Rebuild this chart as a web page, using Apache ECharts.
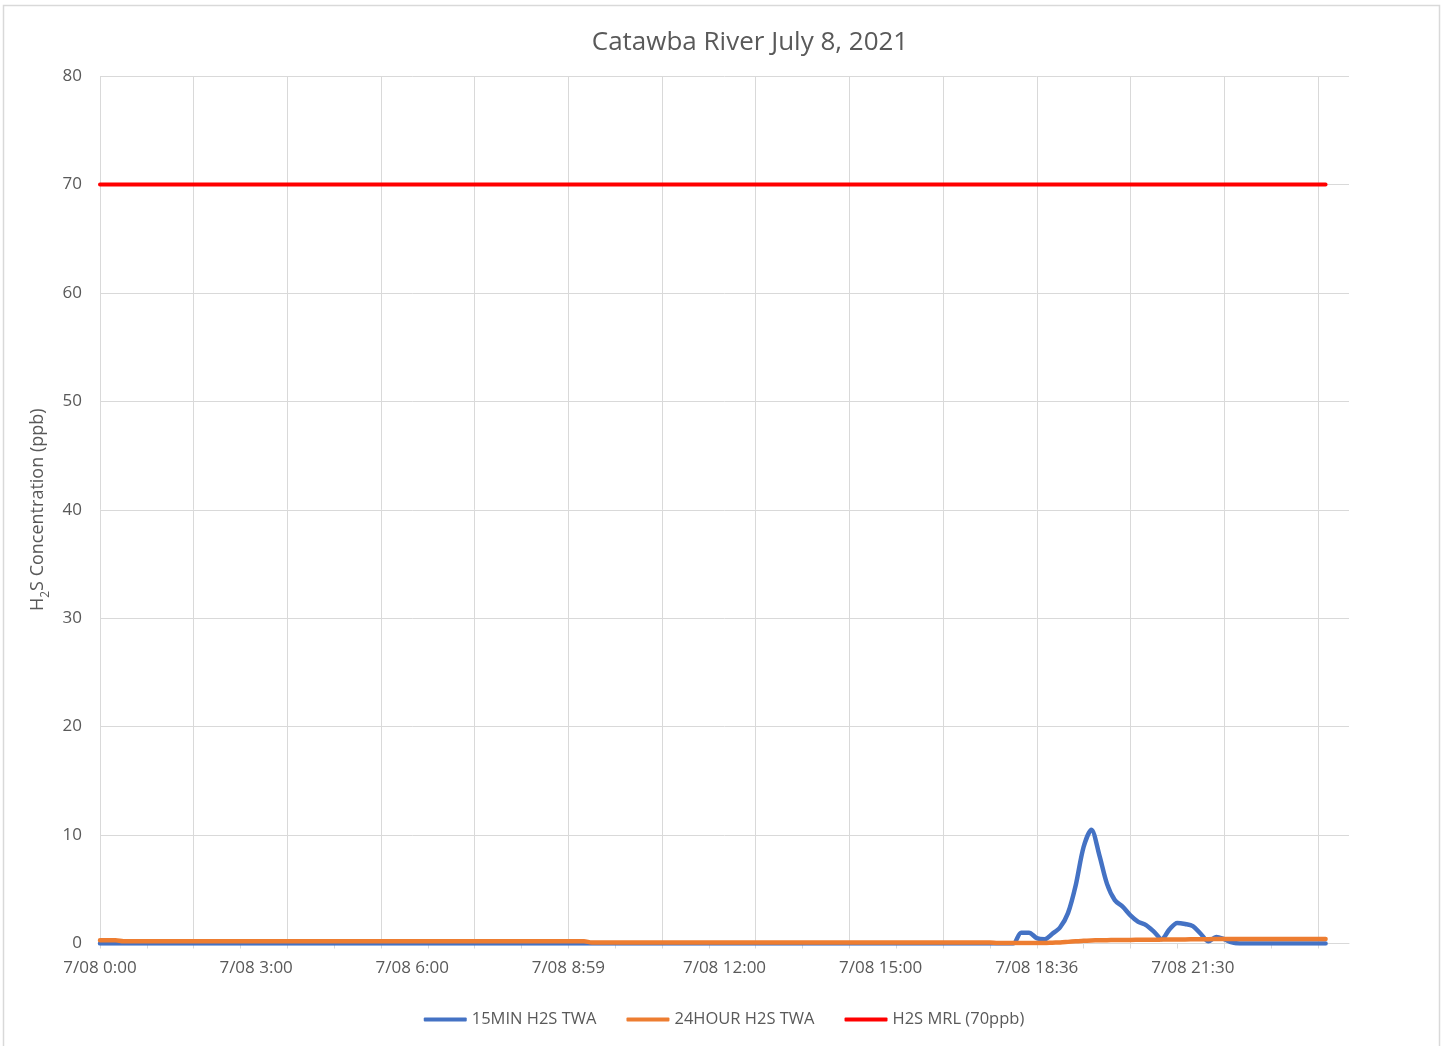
<!DOCTYPE html>
<html>
<head>
<meta charset="utf-8">
<title>Catawba River July 8, 2021</title>
<script src="https://cdn.jsdelivr.net/npm/echarts@6/dist/echarts.min.js"></script>
<style>
	html, body { margin: 0; padding: 0; background: #fff; }
	#main { width: 1448px; height: 1046px; }
</style>
</head>
<body>
<div id="main"></div>
<script>
	// x axis: one category per reading slot, label every 20th slot
	var slotCount = 161;
	var tickLabels = ['7/08 0:00', '7/08 3:00', '7/08 6:00', '7/08 8:59', '7/08 12:00', '7/08 15:00', '7/08 18:36', '7/08 21:30'];

	// 15MIN H2S TWA (ppb)
	var twa15 = [
		0, 0, 0, 0, 0, 0, 0, 0, 0, 0, 0, 0, 0, 0, 0, 0, 0, 0, 0, 0,
		0, 0, 0, 0, 0, 0, 0, 0, 0, 0, 0, 0, 0, 0, 0, 0, 0, 0, 0, 0,
		0, 0, 0, 0, 0, 0, 0, 0, 0, 0, 0, 0, 0, 0, 0, 0, 0, 0, 0, 0,
		0, 0, 0, 0, 0, 0, 0, 0, 0, 0, 0, 0, 0, 0, 0, 0, 0, 0, 0, 0,
		0, 0, 0, 0, 0, 0, 0, 0, 0, 0, 0, 0, 0, 0, 0, 0, 0, 0, 0, 0,
		0, 0, 0, 0, 0, 0, 0, 0, 0, 0, 0, 0, 0, 0, 0, 0, 0, 0,
		1.0, 1.0, 0.5, 0.4, 0.9, 1.5, 2.8, 5.4, 8.9, 10.5,
		8.2, 5.5, 4.0, 3.4, 2.6, 2.0, 1.7, 1.1, 0.4, 1.3,
		1.9, 1.8, 1.6, 0.9, 0.2, 0.6, 0.4, 0.1,
		0, 0, 0, 0, 0, 0, 0, 0, 0, 0, 0, 0
	];

	// 24HOUR H2S TWA (ppb)
	var twa24 = [
		0.3, 0.3, 0.3,
		0.2, 0.2, 0.2, 0.2, 0.2, 0.2, 0.2, 0.2, 0.2, 0.2, 0.2, 0.2, 0.2, 0.2, 0.2, 0.2, 0.2, 0.2, 0.2, 0.2,
		0.2, 0.2, 0.2, 0.2, 0.2, 0.2, 0.2, 0.2, 0.2, 0.2, 0.2, 0.2, 0.2, 0.2, 0.2, 0.2, 0.2, 0.2, 0.2, 0.2,
		0.2, 0.2, 0.2, 0.2, 0.2, 0.2, 0.2, 0.2, 0.2, 0.2, 0.2, 0.2, 0.2, 0.2, 0.2, 0.2, 0.2, 0.2, 0.2, 0.2,
		0.1, 0.1, 0.1, 0.1, 0.1, 0.1, 0.1, 0.1, 0.1, 0.1, 0.1, 0.1, 0.1, 0.1, 0.1, 0.1, 0.1, 0.1, 0.1, 0.1,
		0.1, 0.1, 0.1, 0.1, 0.1, 0.1, 0.1, 0.1, 0.1, 0.1, 0.1, 0.1, 0.1, 0.1, 0.1, 0.1, 0.1, 0.1, 0.1, 0.1,
		0.1, 0.1, 0.1, 0.1, 0.1, 0.1, 0.1, 0.1, 0.1, 0.1, 0.1, 0.1,
		0.05, 0.05, 0.05, 0.05, 0.05, 0.05, 0.05,
		0.08, 0.1, 0.15, 0.2, 0.25, 0.28, 0.3, 0.31, 0.32, 0.33, 0.33, 0.34,
		0.35, 0.35, 0.36, 0.37, 0.38, 0.38, 0.39, 0.4, 0.4, 0.41, 0.42, 0.42,
		0.42, 0.42, 0.42, 0.42, 0.42, 0.42, 0.42, 0.42, 0.42, 0.42, 0.42, 0.42
	];

	// H2S MRL (70ppb)
	var mrl = [
		70, 70, 70, 70, 70, 70, 70, 70, 70, 70, 70, 70, 70, 70, 70, 70, 70, 70, 70, 70,
		70, 70, 70, 70, 70, 70, 70, 70, 70, 70, 70, 70, 70, 70, 70, 70, 70, 70, 70, 70,
		70, 70, 70, 70, 70, 70, 70, 70, 70, 70, 70, 70, 70, 70, 70, 70, 70, 70, 70, 70,
		70, 70, 70, 70, 70, 70, 70, 70, 70, 70, 70, 70, 70, 70, 70, 70, 70, 70, 70, 70,
		70, 70, 70, 70, 70, 70, 70, 70, 70, 70, 70, 70, 70, 70, 70, 70, 70, 70, 70, 70,
		70, 70, 70, 70, 70, 70, 70, 70, 70, 70, 70, 70, 70, 70, 70, 70, 70, 70, 70, 70,
		70, 70, 70, 70, 70, 70, 70, 70, 70, 70, 70, 70, 70, 70, 70, 70, 70, 70, 70, 70,
		70, 70, 70, 70, 70, 70, 70, 70, 70, 70, 70, 70, 70, 70, 70, 70, 70, 70
	];

	var slots = [];
	for (var i = 0; i < slotCount; i++) {
		slots.push(String(i));
	}

	var gray = '#d9d9d9';
	var textGray = '#595959';

	var chart = echarts.init(document.getElementById('main'));
	var option = {
		animation: false,
		backgroundColor: '#fff',
		textStyle: {
			fontFamily: 'Open Sans'
		},
		title: {
			text: 'Catawba River July 8, 2021',
			left: 750,
			top: 30,
			textAlign: 'center',
			padding: 0,
			textStyle: {
				color: textGray,
				fontSize: 26,
				fontWeight: 'normal',
				fontFamily: 'Open Sans'
			}
		},
		graphic: [{
			type: 'rect',
			shape: { x: 3.5, y: 5.5, width: 1436, height: 1050 },
			style: { fill: 'none', stroke: gray, lineWidth: 1.5 },
			silent: true
		}],
		legend: {
			left: 'center',
			top: 1006,
			icon: 'roundRect',
			itemWidth: 43,
			itemHeight: 4,
			itemGap: 30,
			textStyle: {
				color: textGray,
				fontSize: 16.5
			},
			data: ['15MIN H2S TWA', '24HOUR H2S TWA', 'H2S MRL (70ppb)']
		},
		grid: {
			left: 100,
			right: 99,
			top: 76,
			bottom: 102.5
		},
		xAxis: {
			type: 'category',
			data: slots,
			boundaryGap: false,
			axisLine: {
				lineStyle: { color: gray, width: 1 }
			},
			axisTick: {
				show: true,
				interval: 5,
				length: 5,
				lineStyle: { color: gray }
			},
			axisLabel: {
				interval: 19,
				color: textGray,
				fontSize: 17,
				margin: 16,
				formatter: function (value, index) {
					return tickLabels[index / 20] || '';
				}
			},
			splitLine: {
				show: true,
				interval: 11,
				lineStyle: { color: gray, width: 1 }
			}
		},
		yAxis: {
			type: 'value',
			min: 0,
			max: 80,
			interval: 10,
			name: '{n|H}{s|2}{n|S Concentration (ppb)}',
			nameLocation: 'middle',
			nameGap: 47,
			nameTextStyle: {
				color: textGray,
				rich: {
					n: { fontSize: 18, color: textGray, lineHeight: 28, verticalAlign: 'middle' },
					s: { fontSize: 12, color: textGray, lineHeight: 12, verticalAlign: 'bottom' }
				}
			},
			axisLine: { show: false },
			axisTick: { show: false },
			axisLabel: {
				color: textGray,
				fontSize: 17,
				margin: 18
			},
			splitLine: {
				lineStyle: { color: gray, width: 1 }
			}
		},
		series: [{
			name: '15MIN H2S TWA',
			type: 'line',
			data: twa15,
			symbol: 'none',
			smooth: 0.3,
			itemStyle: { color: '#4472C4' },
			lineStyle: { color: '#4472C4', width: 4.5, cap: 'round', join: 'round' }
		}, {
			name: '24HOUR H2S TWA',
			type: 'line',
			data: twa24,
			symbol: 'none',
			smooth: 0.3,
			itemStyle: { color: '#ED7D31' },
			lineStyle: { color: '#ED7D31', width: 4.5, cap: 'round', join: 'round' }
		}, {
			name: 'H2S MRL (70ppb)',
			type: 'line',
			data: mrl,
			symbol: 'none',
			itemStyle: { color: '#FF0000' },
			lineStyle: { color: '#FF0000', width: 4, cap: 'round' }
		}]
	};
	chart.setOption(option);
</script>
</body>
</html>
